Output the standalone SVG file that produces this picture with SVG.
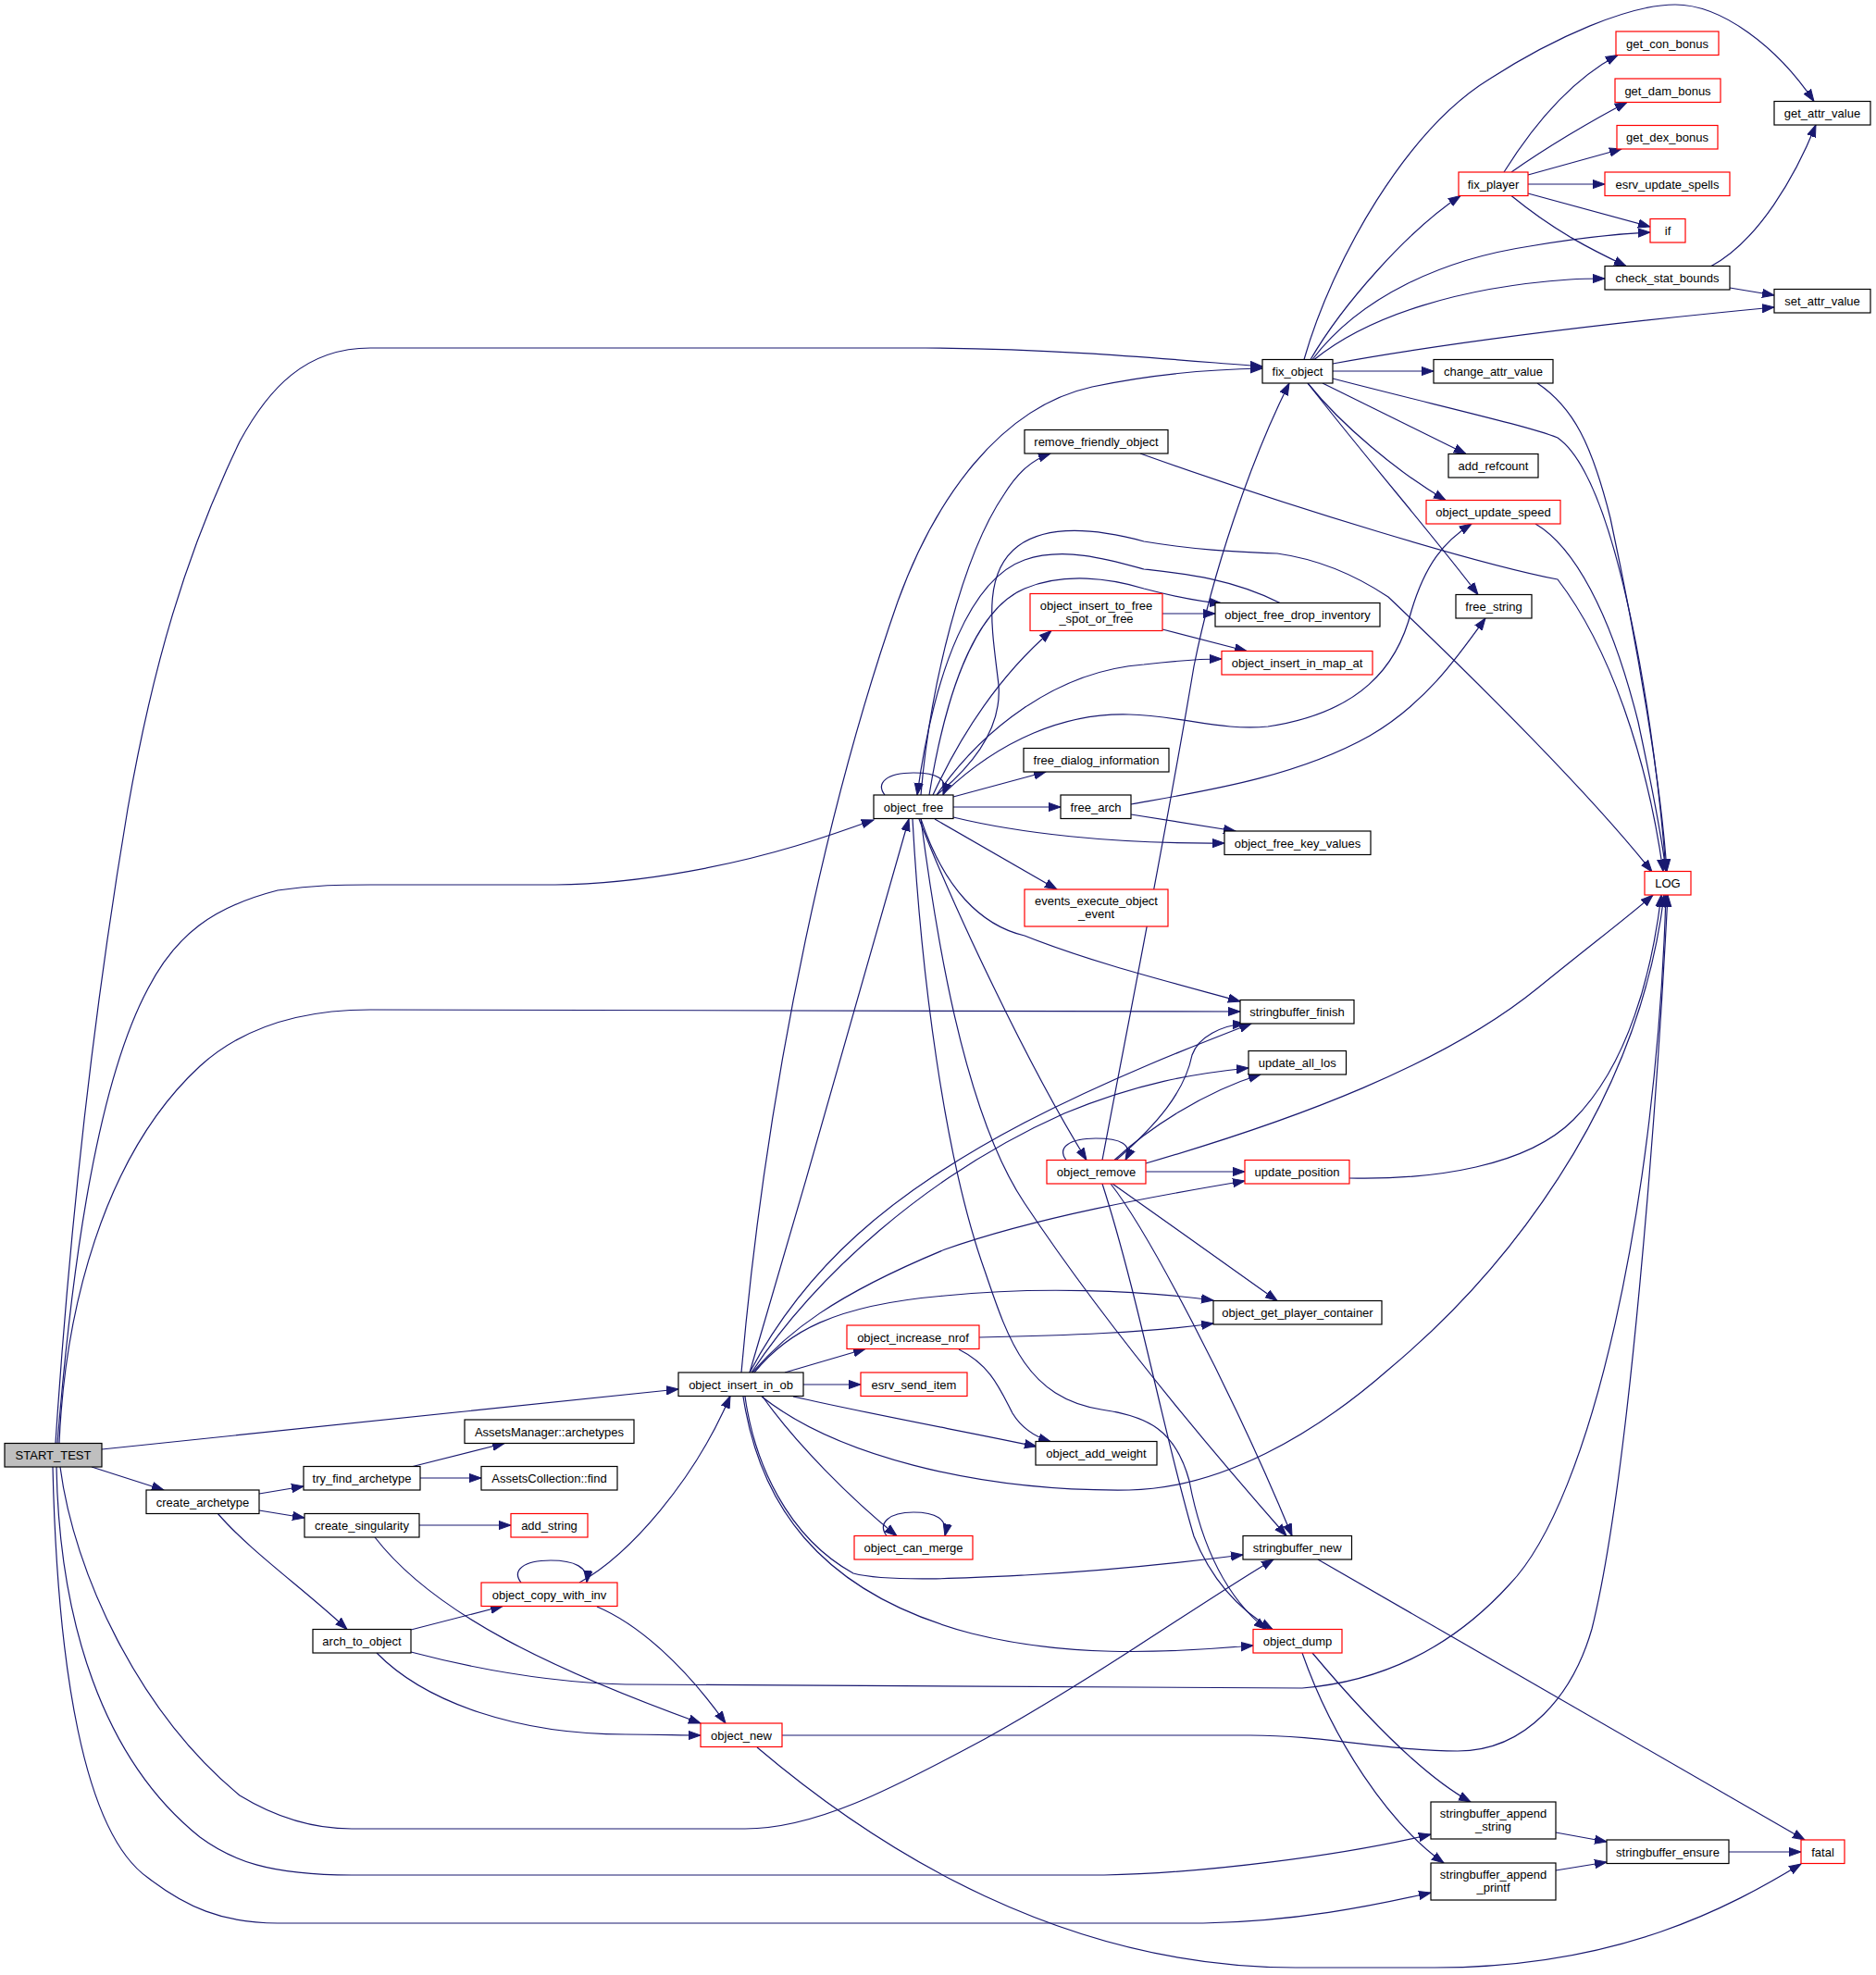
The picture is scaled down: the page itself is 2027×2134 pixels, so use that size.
<svg xmlns="http://www.w3.org/2000/svg" width="2027" height="2134" viewBox="0 0 2027 2134">
<style>
.nd rect{fill:#ffffff;stroke:#000000;stroke-width:1.2}
.nd.red rect{stroke:#ff0000}
.nd.root rect{fill:#bfbfbf}
.nd text{font-family:"Liberation Sans",Arial,Helvetica,sans-serif;font-size:13px;text-anchor:middle;fill:#000000}
#edges path{fill:none;stroke:#191970;stroke-width:1.2;marker-end:url(#arr)}
</style>
<defs>
<marker id="arr" markerUnits="userSpaceOnUse" markerWidth="15" markerHeight="12" refX="13" refY="5.5" orient="auto">
<path d="M0,0.9 L13,5.5 L0,10.1 z" fill="#191970" stroke="#191970" stroke-width="1"/>
</marker>
</defs>
<rect x="0" y="0" width="2027" height="2134" fill="#ffffff"/>
<g id="edges">
<path d="M60,1559 C75,1330 100,1100 138,874 C165,720 200,600 259,477 C290,420 330,376 400,376 L1000,376 C1150,377 1260,388 1364,396"/>
<path d="M62,1559 C75,1400 100,1180 160,1068 C190,1010 230,980 300,962 C340,956 370,956 400,956 L600,956 C700,955 800,932 860,914 C900,902 920,894 944,886"/>
<path d="M64,1559 C70,1420 110,1250 216,1152 C260,1112 320,1091 400,1091 L1340,1093"/>
<path d="M110,1566 L733,1501"/>
<path d="M99,1585 L177,1610"/>
<path d="M65,1585 C80,1700 150,1850 259,1940 C300,1965 340,1976 380,1976 L805,1976 C880,1976 960,1935 1064,1879 C1180,1815 1300,1730 1376,1685"/>
<path d="M61,1585 C64,1750 110,1900 216,1985 C250,2010 290,2026 380,2026 L1193,2026 C1300,2024 1450,2005 1546,1982"/>
<path d="M57,1585 C62,1800 90,1980 160,2029 C200,2060 240,2078 300,2078 L1300,2078 C1400,2076 1480,2060 1546,2045"/>
<path d="M280,1614 L328,1606"/>
<path d="M280,1632 L329,1640"/>
<path d="M235,1635 C270,1676 330,1718 375,1760.5"/>
<path d="M444,1585 L545,1559.5"/>
<path d="M454,1597 L520,1597"/>
<path d="M453,1648 L552,1648"/>
<path d="M405,1661 C470,1745 600,1805 757,1862"/>
<path d="M444,1761 L543,1735.5"/>
<path d="M407,1786 C460,1840 560,1874 676,1874 C710,1874 735,1875 757,1875"/>
<path d="M444,1785 C520,1805 600,1818 676,1820 L1407,1824 C1480,1818 1560,1790 1631,1712 C1720,1620 1790,1300 1800,967"/>
<path d="M845,1875 L1351,1875 C1430,1875 1500,1892 1575,1892 C1650,1892 1700,1830 1720,1760 C1760,1600 1790,1200 1802,967"/>
<path d="M818,1888 C950,2000 1150,2126 1400,2126 L1550,2126 C1750,2126 1870,2060 1946,2014"/>
<path d="M563,1710 C553,1697 565,1686 595,1686 C620,1686 636,1693 634,1710"/>
<path d="M626,1710 C680,1680 750,1600 789,1508.5"/>
<path d="M645,1736 C690,1755 740,1800 784,1862"/>
<path d="M801,1483 C830,1150 900,850 970,650 C1010,540 1080,440 1180,418 C1250,403 1310,399 1364,398"/>
<path d="M810,1483 C870,1280 950,1000 982,885"/>
<path d="M810,1483 C870,1370 960,1290 1107,1213 C1200,1165 1290,1130 1352,1106"/>
<path d="M812,1483 C880,1380 1000,1270 1150,1203 C1230,1170 1290,1160 1349,1154"/>
<path d="M813,1483 C850,1440 900,1400 1021,1350 C1120,1315 1250,1292 1345,1276"/>
<path d="M815,1483 C850,1440 900,1410 1021,1400 C1120,1390 1230,1394 1311,1405"/>
<path d="M848,1483 L935,1457.5"/>
<path d="M868,1496 L930,1496"/>
<path d="M857,1509 C950,1530 1050,1548 1120,1563"/>
<path d="M823,1509 C900,1570 1050,1612 1220,1610 C1320,1608 1420,1550 1500,1480 C1620,1380 1770,1200 1798,967"/>
<path d="M824,1509 C860,1560 920,1620 969,1659.5"/>
<path d="M805,1509 C815,1580 850,1660 922,1700 C960,1710 1050,1705 1107,1702 C1200,1697 1280,1688 1343,1680"/>
<path d="M803,1509 C820,1620 880,1720 1050,1765 C1150,1790 1250,1787 1354,1778"/>
<path d="M1058,1445 C1150,1443 1240,1440 1311,1430"/>
<path d="M1036,1458 C1070,1475 1080,1500 1094,1527 C1105,1545 1120,1553 1135,1557.5"/>
<path d="M958,1659.5 C948,1646 960,1634 987,1634 C1010,1634 1025,1641 1021,1659.5"/>
<path d="M956,859 C946,846 958,835 987,835 C1012,835 1025,841 1019,859"/>
<path d="M995,859 C1005,740 1040,600 1085,534 C1100,510 1115,497 1135,490"/>
<path d="M1012,859 C1060,820 1082,780 1079,740 C1072,680 1060,620 1100,590 C1130,568 1180,570 1236,585 C1290,594 1330,596 1380,598 C1430,605 1470,625 1500,645 C1600,740 1720,860 1785,942"/>
<path d="M1383,651.5 C1330,625 1280,620 1236,615 C1200,605 1150,590 1107,605 C1050,625 1010,720 991,859"/>
<path d="M1004,859 C1020,760 1050,660 1107,636 C1150,618 1200,625 1236,636 C1270,645 1295,650 1320,652"/>
<path d="M1008,859 C1040,790 1080,730 1136,681.5"/>
<path d="M1012,859 C1060,790 1140,725 1236,718 C1270,714 1300,712 1320,712"/>
<path d="M1021,856 C1080,800 1150,770 1220,772 C1280,774 1320,790 1370,785 C1470,770 1510,720 1525,660 C1540,610 1560,585 1590,566"/>
<path d="M1030,861 L1130,834"/>
<path d="M1030,872 L1146,872"/>
<path d="M1030,883 C1100,900 1200,912 1323,911"/>
<path d="M1010,885 L1142,961"/>
<path d="M995,885 C1020,960 1060,1000 1107,1011 C1180,1040 1260,1060 1340,1082"/>
<path d="M993,885 C1030,980 1110,1150 1174,1253.5"/>
<path d="M995,885 C1010,1000 1040,1200 1107,1300 C1200,1440 1320,1580 1390,1659.5"/>
<path d="M986,885 C995,1050 1020,1250 1064,1373 C1090,1450 1110,1510 1190,1523 C1240,1530 1270,1545 1285,1600 C1300,1680 1330,1730 1368,1760.5"/>
<path d="M1409,388.5 C1440,280 1520,140 1610,85 C1680,40 1760,5 1810,5 C1860,5 1920,50 1960,109.5"/>
<path d="M1416,388.5 C1450,330 1520,250 1578,211.5"/>
<path d="M1418,388.5 C1470,320 1560,280 1653,266 C1700,258 1740,253 1783,251"/>
<path d="M1420,388.5 C1480,340 1580,310 1696,302 C1710,301 1720,301 1734,301"/>
<path d="M1440,393 C1600,364 1780,345 1917,332"/>
<path d="M1440,401 L1549,401"/>
<path d="M1440,409 C1560,440 1650,460 1683,473 C1750,520 1790,800 1800,941.5"/>
<path d="M1429,414 L1584,490.5"/>
<path d="M1413,414 C1450,460 1510,510 1562,540.5"/>
<path d="M1413,414 C1480,500 1550,580 1597,642.5"/>
<path d="M1625,186 C1660,130 1700,85 1748,59.5"/>
<path d="M1633,186 C1670,160 1720,130 1758,110.5"/>
<path d="M1651,189 L1752,161"/>
<path d="M1651,199 L1734,199"/>
<path d="M1651,209 L1783,245"/>
<path d="M1633,211.5 C1680,250 1720,270 1757,287.5"/>
<path d="M1849,287.5 C1900,260 1940,190 1962,135"/>
<path d="M1869,311 L1917,319"/>
<path d="M1661,414 C1700,440 1720,480 1740,560 C1770,700 1795,850 1801,941.5"/>
<path d="M1232,490 C1400,550 1600,610 1683,626 C1740,700 1780,820 1797,941.5"/>
<path d="M1659,566 C1700,590 1740,660 1770,780 C1785,850 1795,900 1800,941.5"/>
<path d="M1222,869 C1300,855 1400,840 1480,795 C1540,760 1575,710 1605,668"/>
<path d="M1222,880 L1335,898"/>
<path d="M1256,663 L1313,663"/>
<path d="M1256,680 L1347,703.5"/>
<path d="M1152,1253.5 C1142,1240 1155,1230 1184,1230 C1210,1230 1225,1236 1216,1253.5"/>
<path d="M1191,1253.5 C1220,1100 1260,900 1290,720 C1310,620 1350,500 1393,414"/>
<path d="M1206,1253.5 C1250,1215 1280,1180 1288,1140 C1295,1120 1320,1108 1345,1106"/>
<path d="M1204,1253.5 C1240,1220 1300,1180 1362,1161"/>
<path d="M1238,1257 C1400,1210 1560,1150 1661,1068 C1720,1020 1760,990 1786,967"/>
<path d="M1238,1266 L1345,1266"/>
<path d="M1202,1279 C1260,1320 1330,1370 1380,1405.5"/>
<path d="M1200,1279 C1240,1330 1330,1500 1396,1659.5"/>
<path d="M1191,1279 C1230,1400 1260,1560 1290,1660 C1310,1710 1340,1740 1375,1760.5"/>
<path d="M1458,1273 C1550,1275 1650,1260 1700,1210 C1760,1150 1785,1050 1795,967"/>
<path d="M1418,1786 C1480,1860 1540,1920 1589,1947"/>
<path d="M1407,1786 C1440,1880 1500,1970 1560,2013"/>
<path d="M1424,1685 L1950,1988"/>
<path d="M1681,1980 L1736,1990"/>
<path d="M1681,2021 L1736,2012"/>
<path d="M1868,2001 L1946,2001"/>
</g>
<g id="n_START_TEST" class="nd root"><rect x="5" y="1559.5" width="105" height="25.5"/><text x="57.5" y="1577">START_TEST</text></g>
<g id="n_create_archetype" class="nd"><rect x="158" y="1610" width="122" height="25.5"/><text x="219" y="1627.5">create_archetype</text></g>
<g id="n_try_find_archetype" class="nd"><rect x="328" y="1584.5" width="126" height="25.5"/><text x="391" y="1602">try_find_archetype</text></g>
<g id="n_AssetsManager_archetypes" class="nd"><rect x="502" y="1534" width="183" height="25.5"/><text x="593.5" y="1551.5">AssetsManager::archetypes</text></g>
<g id="n_AssetsCollection_find" class="nd"><rect x="520" y="1584.5" width="147" height="25.5"/><text x="593.5" y="1602">AssetsCollection::find</text></g>
<g id="n_create_singularity" class="nd"><rect x="329" y="1635.5" width="124" height="25.5"/><text x="391" y="1653">create_singularity</text></g>
<g id="n_add_string" class="nd red"><rect x="552" y="1635.5" width="83" height="25.5"/><text x="593.5" y="1653">add_string</text></g>
<g id="n_arch_to_object" class="nd"><rect x="338" y="1760.5" width="106" height="25.5"/><text x="391" y="1778">arch_to_object</text></g>
<g id="n_object_copy_with_inv" class="nd red"><rect x="520" y="1710" width="147" height="25.5"/><text x="593.5" y="1727.5">object_copy_with_inv</text></g>
<g id="n_object_new" class="nd red"><rect x="757" y="1862" width="88" height="25.5"/><text x="801" y="1879.5">object_new</text></g>
<g id="n_object_insert_in_ob" class="nd"><rect x="733" y="1483" width="135" height="25.5"/><text x="800.5" y="1500.5">object_insert_in_ob</text></g>
<g id="n_object_increase_nrof" class="nd red"><rect x="915" y="1432" width="143" height="25.5"/><text x="986.5" y="1449.5">object_increase_nrof</text></g>
<g id="n_esrv_send_item" class="nd red"><rect x="930" y="1483" width="115" height="25.5"/><text x="987.5" y="1500.5">esrv_send_item</text></g>
<g id="n_object_can_merge" class="nd red"><rect x="923" y="1659.5" width="128" height="25.5"/><text x="987" y="1677">object_can_merge</text></g>
<g id="n_object_add_weight" class="nd"><rect x="1119" y="1557.5" width="131" height="25.5"/><text x="1184.5" y="1575">object_add_weight</text></g>
<g id="n_object_free" class="nd"><rect x="944" y="859" width="86" height="25.5"/><text x="987" y="876.5">object_free</text></g>
<g id="n_remove_friendly_object" class="nd"><rect x="1107" y="464.5" width="155" height="25.5"/><text x="1184.5" y="482">remove_friendly_object</text></g>
<g id="n_object_insert_to_free_spot_or_free" class="nd red"><rect x="1113" y="641.5" width="143" height="40"/><text x="1184.5" y="658.5">object_insert_to_free</text><text x="1184.5" y="672.5">_spot_or_free</text></g>
<g id="n_free_dialog_information" class="nd"><rect x="1106" y="808.5" width="157" height="25.5"/><text x="1184.5" y="826">free_dialog_information</text></g>
<g id="n_free_arch" class="nd"><rect x="1146" y="859" width="76" height="25.5"/><text x="1184" y="876.5">free_arch</text></g>
<g id="n_events_execute_object_event" class="nd red"><rect x="1107" y="961" width="155" height="40"/><text x="1184.5" y="978">events_execute_object</text><text x="1184.5" y="992">_event</text></g>
<g id="n_object_remove" class="nd red"><rect x="1131" y="1253.5" width="107" height="25.5"/><text x="1184.5" y="1271">object_remove</text></g>
<g id="n_fix_object" class="nd"><rect x="1364" y="388.5" width="76" height="25.5"/><text x="1402" y="406">fix_object</text></g>
<g id="n_object_free_drop_inventory" class="nd"><rect x="1313" y="651.5" width="178" height="25.5"/><text x="1402" y="669">object_free_drop_inventory</text></g>
<g id="n_object_insert_in_map_at" class="nd red"><rect x="1320" y="703.5" width="163" height="25.5"/><text x="1401.5" y="721">object_insert_in_map_at</text></g>
<g id="n_object_free_key_values" class="nd"><rect x="1323" y="898" width="158" height="25.5"/><text x="1402" y="915.5">object_free_key_values</text></g>
<g id="n_stringbuffer_finish" class="nd"><rect x="1340" y="1080.5" width="123" height="25.5"/><text x="1401.5" y="1098">stringbuffer_finish</text></g>
<g id="n_update_all_los" class="nd"><rect x="1349" y="1135.5" width="105.5" height="25.5"/><text x="1401.75" y="1153">update_all_los</text></g>
<g id="n_update_position" class="nd red"><rect x="1345" y="1253.5" width="113" height="25.5"/><text x="1401.5" y="1271">update_position</text></g>
<g id="n_object_get_player_container" class="nd"><rect x="1311" y="1405.5" width="182" height="25.5"/><text x="1402" y="1423">object_get_player_container</text></g>
<g id="n_stringbuffer_new" class="nd"><rect x="1343" y="1659.5" width="117.5" height="25.5"/><text x="1401.75" y="1677">stringbuffer_new</text></g>
<g id="n_object_dump" class="nd red"><rect x="1354" y="1760.5" width="96" height="25.5"/><text x="1402" y="1778">object_dump</text></g>
<g id="n_fix_player" class="nd red"><rect x="1576" y="186" width="75" height="25.5"/><text x="1613.5" y="203.5">fix_player</text></g>
<g id="n_change_attr_value" class="nd"><rect x="1549" y="388.5" width="129" height="25.5"/><text x="1613.5" y="406">change_attr_value</text></g>
<g id="n_add_refcount" class="nd"><rect x="1565" y="490.5" width="97" height="25.5"/><text x="1613.5" y="508">add_refcount</text></g>
<g id="n_object_update_speed" class="nd red"><rect x="1541" y="540.5" width="145" height="25.5"/><text x="1613.5" y="558">object_update_speed</text></g>
<g id="n_free_string" class="nd"><rect x="1573" y="642.5" width="82" height="25.5"/><text x="1614" y="660">free_string</text></g>
<g id="n_stringbuffer_append_string" class="nd"><rect x="1546" y="1947" width="135" height="40"/><text x="1613.5" y="1964">stringbuffer_append</text><text x="1613.5" y="1978">_string</text></g>
<g id="n_stringbuffer_append_printf" class="nd"><rect x="1546" y="2013" width="135" height="40"/><text x="1613.5" y="2030">stringbuffer_append</text><text x="1613.5" y="2044">_printf</text></g>
<g id="n_get_con_bonus" class="nd red"><rect x="1746" y="34" width="111" height="25.5"/><text x="1801.5" y="51.5">get_con_bonus</text></g>
<g id="n_get_dam_bonus" class="nd red"><rect x="1745" y="85" width="114" height="25.5"/><text x="1802" y="102.5">get_dam_bonus</text></g>
<g id="n_get_dex_bonus" class="nd red"><rect x="1747" y="135.5" width="109" height="25.5"/><text x="1801.5" y="153">get_dex_bonus</text></g>
<g id="n_esrv_update_spells" class="nd red"><rect x="1734" y="186" width="135" height="25.5"/><text x="1801.5" y="203.5">esrv_update_spells</text></g>
<g id="n_if" class="nd red"><rect x="1783" y="236.5" width="38" height="25.5"/><text x="1802" y="254">if</text></g>
<g id="n_check_stat_bounds" class="nd"><rect x="1734" y="287.5" width="135" height="25.5"/><text x="1801.5" y="305">check_stat_bounds</text></g>
<g id="n_LOG" class="nd red"><rect x="1777" y="941.5" width="50" height="25.5"/><text x="1802" y="959">LOG</text></g>
<g id="n_stringbuffer_ensure" class="nd"><rect x="1736" y="1988" width="132" height="25.5"/><text x="1802" y="2005.5">stringbuffer_ensure</text></g>
<g id="n_get_attr_value" class="nd"><rect x="1917" y="109.5" width="104" height="25.5"/><text x="1969" y="127">get_attr_value</text></g>
<g id="n_set_attr_value" class="nd"><rect x="1917" y="312.5" width="104" height="25.5"/><text x="1969" y="330">set_attr_value</text></g>
<g id="n_fatal" class="nd red"><rect x="1946" y="1988" width="47" height="25.5"/><text x="1969.5" y="2005.5">fatal</text></g>
</svg>
